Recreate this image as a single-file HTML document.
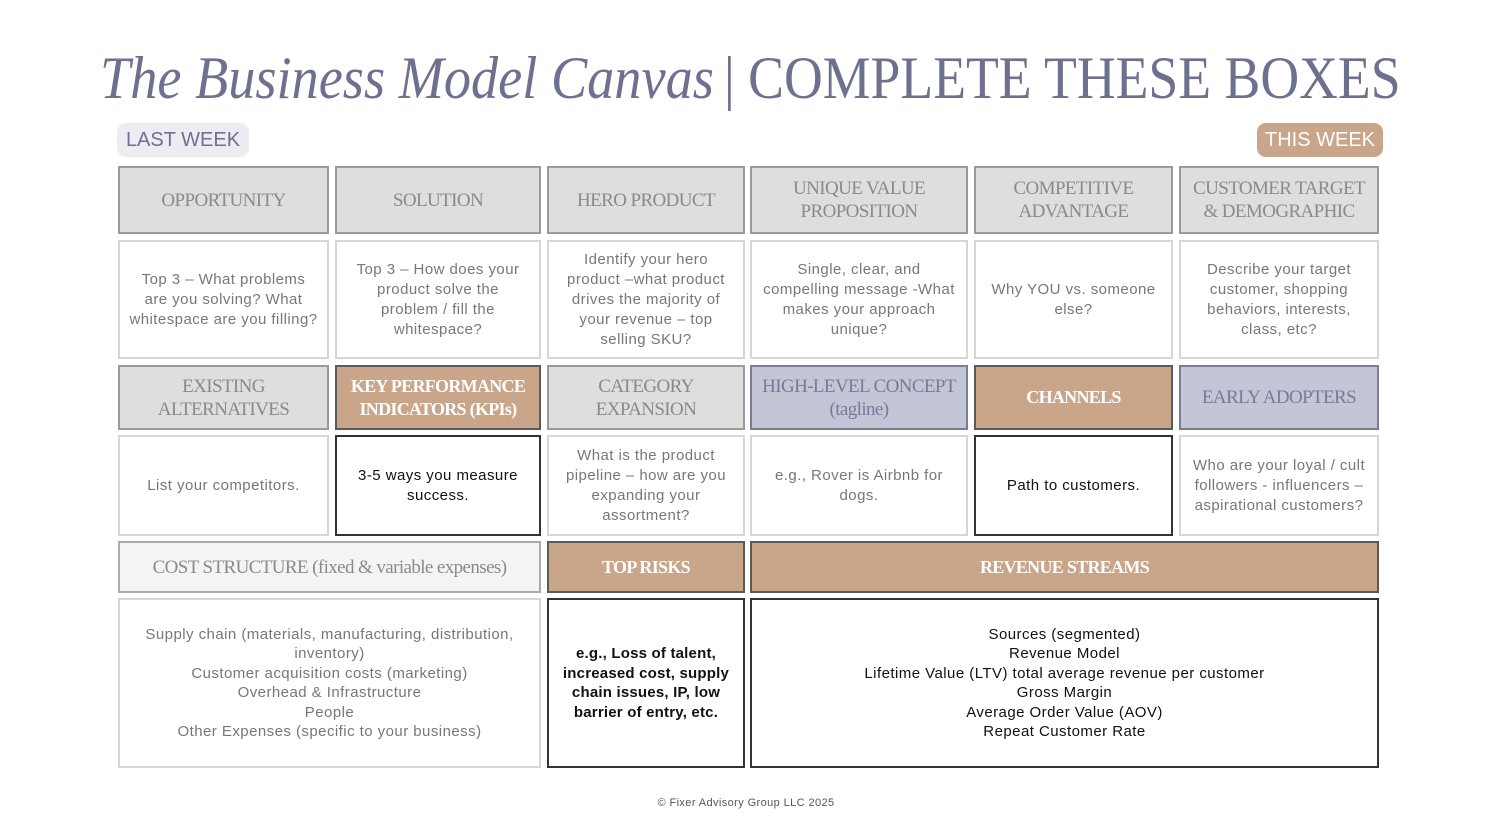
<!DOCTYPE html>
<html><head><meta charset="utf-8"><style>
body{margin:0;width:1497px;height:828px;background:#fff;position:relative;overflow:hidden;font-family:"Liberation Sans",sans-serif}
.b{position:absolute;box-sizing:border-box;display:flex;align-items:center;justify-content:center;text-align:center}
.h{background:#dedede;border:2px solid #9a9a9a;color:#8a8a8a;font-family:"Liberation Serif",serif;font-size:19px;line-height:23px;letter-spacing:-0.6px}
.t{background:#c9a58a;border:2px solid #5a5a5a;color:#fff;font-family:"Liberation Serif",serif;font-size:18px;line-height:23px;letter-spacing:-0.7px;font-weight:bold}
.l{background:#c3c6d6;border:2px solid #7a7d96;color:#777a99;font-family:"Liberation Serif",serif;font-size:19px;line-height:23px;letter-spacing:-0.6px}
.w{background:#fff;border:2px solid #d6d6d6;color:#777;font-size:15px;line-height:20px;padding:0 8px;letter-spacing:0.45px}
.d{background:#fff;border:2px solid #333;color:#111;font-size:15px;line-height:20px;padding:0 8px;letter-spacing:0.45px}
.tt{position:absolute;top:40px;white-space:nowrap;font-family:'Liberation Serif',serif;color:#6e7090;font-size:60px;line-height:76px;transform-origin:0 0}
</style></head><body>
<div class="tt" style="left:100px;transform:scaleX(0.905)"><i>The Business Model Canvas</i></div>
<div class="tt" style="left:724px;transform:scaleX(0.895)">| COMPLETE THESE BOXES</div>
<div class="b" style="left:117px;top:123px;width:132px;height:34px;background:#ececf2;border-radius:9px;color:#6e7090;font-size:20px">LAST WEEK</div>
<div class="b" style="left:1257px;top:123px;width:126px;height:34px;background:#c9a58a;border-radius:9px;color:#fff;font-size:20px">THIS WEEK</div>

<div class="b h" style="left:118px;top:166px;width:211px;height:68px">OPPORTUNITY</div>
<div class="b h" style="left:335px;top:166px;width:206px;height:68px">SOLUTION</div>
<div class="b h" style="left:547px;top:166px;width:198px;height:68px">HERO PRODUCT</div>
<div class="b h" style="left:750px;top:166px;width:218px;height:68px">UNIQUE VALUE<br>PROPOSITION</div>
<div class="b h" style="left:974px;top:166px;width:199px;height:68px">COMPETITIVE<br>ADVANTAGE</div>
<div class="b h" style="left:1179px;top:166px;width:200px;height:68px">CUSTOMER TARGET<br>&amp; DEMOGRAPHIC</div>

<div class="b w" style="left:118px;top:240px;width:211px;height:119px">Top 3 – What problems<br>are you solving? What whitespace are you filling?</div>
<div class="b w" style="left:335px;top:240px;width:206px;height:119px">Top 3 – How does your<br>product solve the<br>problem / fill the<br>whitespace?</div>
<div class="b w" style="left:547px;top:240px;width:198px;height:119px">Identify your hero product –what product drives the majority of your revenue – top selling SKU?</div>
<div class="b w" style="left:750px;top:240px;width:218px;height:119px">Single, clear, and compelling message -What makes your approach unique?</div>
<div class="b w" style="left:974px;top:240px;width:199px;height:119px">Why YOU vs. someone else?</div>
<div class="b w" style="left:1179px;top:240px;width:200px;height:119px">Describe your target customer, shopping behaviors, interests, class, etc?</div>

<div class="b h" style="left:118px;top:365px;width:211px;height:65px">EXISTING<br>ALTERNATIVES</div>
<div class="b t" style="left:335px;top:365px;width:206px;height:65px">KEY PERFORMANCE<br>INDICATORS (KPIs)</div>
<div class="b h" style="left:547px;top:365px;width:198px;height:65px">CATEGORY<br>EXPANSION</div>
<div class="b l" style="left:750px;top:365px;width:218px;height:65px">HIGH-LEVEL CONCEPT<br>(tagline)</div>
<div class="b t" style="left:974px;top:365px;width:199px;height:65px">CHANNELS</div>
<div class="b l" style="left:1179px;top:365px;width:200px;height:65px">EARLY ADOPTERS</div>

<div class="b w" style="left:118px;top:435px;width:211px;height:101px">List your competitors.</div>
<div class="b d" style="left:335px;top:435px;width:206px;height:101px">3-5 ways you measure success.</div>
<div class="b w" style="left:547px;top:435px;width:198px;height:101px">What is the product pipeline – how are you expanding your assortment?</div>
<div class="b w" style="left:750px;top:435px;width:218px;height:101px">e.g., Rover is Airbnb for dogs.</div>
<div class="b d" style="left:974px;top:435px;width:199px;height:101px">Path to customers.</div>
<div class="b w" style="left:1179px;top:435px;width:200px;height:101px">Who are your loyal / cult followers -  influencers – aspirational customers?</div>

<div class="b h" style="left:118px;top:541px;width:423px;height:52px;background:#f4f4f4;border-color:#aaa">COST STRUCTURE (fixed &amp; variable expenses)</div>
<div class="b t" style="left:547px;top:541px;width:198px;height:52px">TOP RISKS</div>
<div class="b t" style="left:750px;top:541px;width:629px;height:52px">REVENUE STREAMS</div>

<div class="b w" style="left:118px;top:598px;width:423px;height:170px;line-height:19.5px">Supply chain (materials, manufacturing, distribution, inventory)<br>Customer acquisition costs (marketing)<br>Overhead &amp; Infrastructure<br>People<br>Other Expenses (specific to your business)</div>
<div class="b d" style="left:547px;top:598px;width:198px;height:170px;line-height:19.5px;font-weight:bold;letter-spacing:0.2px">e.g., Loss of talent, increased cost, supply chain issues, IP, low barrier of entry, etc.</div>
<div class="b d" style="left:750px;top:598px;width:629px;height:170px;line-height:19.5px">Sources (segmented)<br>Revenue Model<br>Lifetime Value (LTV) total average revenue per customer<br>Gross Margin<br>Average Order Value (AOV)<br>Repeat Customer Rate</div>

<div style="position:absolute;left:0;width:1492px;top:797px;text-align:center;font-size:11px;color:#555;letter-spacing:0.4px">© Fixer Advisory Group LLC 2025</div>
</body></html>
